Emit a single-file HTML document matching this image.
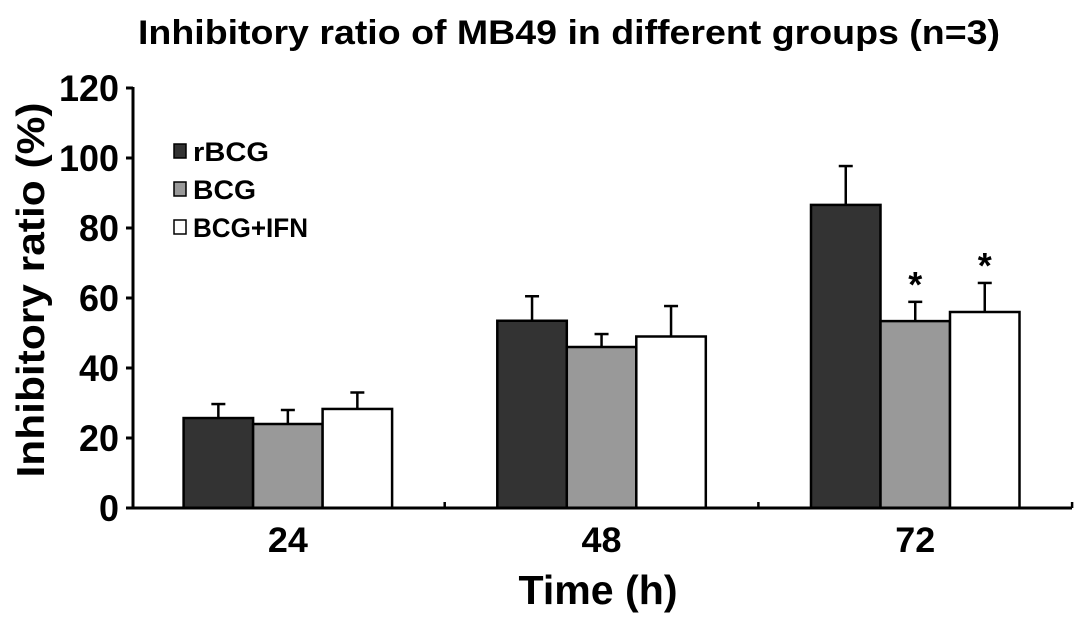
<!DOCTYPE html>
<html><head><meta charset="utf-8"><style>
html,body{margin:0;padding:0;background:#fff;}
svg{display:block;font-family:"Liberation Sans",Arial,sans-serif;font-weight:bold;}
</style></head><body>
<svg id="chart" width="1087" height="624" viewBox="0 0 1087 624">
<text x="569" y="44" text-anchor="middle" font-size="34" textLength="862" lengthAdjust="spacingAndGlyphs">Inhibitory ratio of MB49 in different groups (n=3)</text>
<text transform="translate(44,290) rotate(-90)" text-anchor="middle" font-size="39" textLength="375" lengthAdjust="spacingAndGlyphs">Inhibitory ratio (%)</text>
<text x="598" y="604" text-anchor="middle" font-size="41" textLength="159" lengthAdjust="spacingAndGlyphs">Time (h)</text>
<g id="bars"></g>
<g id="axes"></g>
<g id="legend"></g>
</svg>
<script>
const categories = ["24","48","72"];
const seriesNames = ["rBCG","BCG","BCG+IFN"];
const rBCG = [25.7, 53.5, 86.6];
const BCG = [24.0, 46.0, 53.4];
const IFN = [28.3, 49.0, 56.0];
const rBCGErr = [4.0, 7.0, 11.1];
const BCGErr = [4.0, 3.7, 5.5];
const IFNErr = [4.7, 8.7, 8.3];
const yTicks = [0,20,40,60,80,100,120];
const stars = [[false,false,false],[false,false,false],[false,true,true]];

const ns="http://www.w3.org/2000/svg";
const x0=131, catW=313.7, barW=69.5, y0=508, pxPer=3.5;
const fills=["#333333","#999999","#ffffff"];
const vals=[rBCG,BCG,IFN], errs=[rBCGErr,BCGErr,IFNErr];
function yS(v){return y0-v*pxPer;}
function xC(i){return x0+catW*(i+0.5);}
function mk(tag,attrs,parent){const e=document.createElementNS(ns,tag);for(const k in attrs)e.setAttribute(k,attrs[k]);parent.appendChild(e);return e;}
const gb=document.getElementById('bars'), ga=document.getElementById('axes'), gl=document.getElementById('legend');
categories.forEach((c,i)=>{
  vals.forEach((arr,s)=>{
    const bx=xC(i)-1.5*barW+s*barW, top=yS(arr[i]), et=yS(arr[i]+errs[s][i]), cx=bx+barW/2;
    const l=mk('line',{x1:cx,x2:cx,y1:top,y2:et,stroke:'#000','stroke-width':2.5},gb);
    
    
    const cap=mk('line',{x1:cx-7,x2:cx+7,y1:et,y2:et,stroke:'#000','stroke-width':2.5},gb);
    
    
    const r=mk('rect',{x:bx,y:top,width:barW,height:y0-top,fill:fills[s],stroke:'#000','stroke-width':2.5},gb);
    
    
    if(stars[i][s]){const t=mk('text',{x:cx,y:et-5,'text-anchor':'middle','font-size':36},gb);t.textContent='*';
      
      }
  });
  const t=mk('text',{x:xC(i),y:552,'text-anchor':'middle','font-size':35,textLength:40,lengthAdjust:'spacingAndGlyphs'},ga);t.textContent=c;
  
  
});
const ya=mk('line',{x1:133,x2:133,y1:yS(120)-1,y2:y0,stroke:'#000','stroke-width':3},ga);


const xa=mk('line',{x1:131.5,x2:1072,y1:y0,y2:y0,stroke:'#000','stroke-width':3},ga);


for(let k=1;k<=3;k++){const tk=mk('line',{x1:x0+catW*k,x2:x0+catW*k,y1:y0,y2:y0-6,stroke:'#000','stroke-width':2.5},ga);
  
  }
yTicks.forEach(v=>{
  const tk=mk('line',{x1:126,x2:133,y1:yS(v),y2:yS(v),stroke:'#000','stroke-width':3},ga);
  
  
  const s=String(v);
  const t=mk('text',{x:119,y:yS(v)+13,'text-anchor':'end','font-size':37,textLength:20*s.length,lengthAdjust:'spacingAndGlyphs'},ga);t.textContent=s;
  
  
});
const legendW=[76,63,115];
seriesNames.forEach((n,s)=>{
  const yy=152+s*38;
  const r=mk('rect',{x:174,y:yy-8,width:12,height:14,fill:fills[s],stroke:'#000','stroke-width':1.5},gl);
  
  
  const t=mk('text',{x:193,y:yy+9,'font-size':27,textLength:legendW[s],lengthAdjust:'spacingAndGlyphs'},gl);t.textContent=n;
  
  
});
</script>
</body></html>
